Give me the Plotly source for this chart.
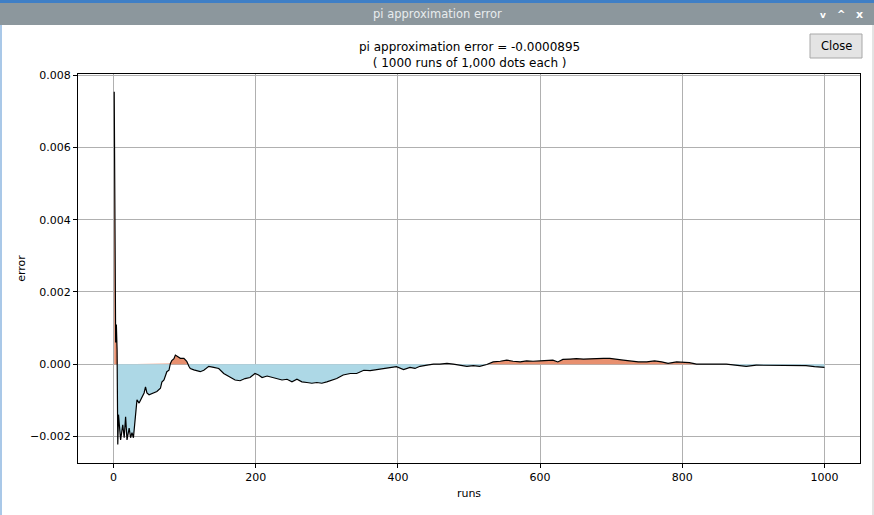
import plotly.graph_objects as go

# data: run number and cumulative pi-approximation error
runs = [1, 2, 3, 4, 5, 6, 7, 10, 13, 15, 17, 19, 22, 24, 26, 28, 31, 33, 36, 38, 40,
        43, 45, 47, 50, 52, 57, 61, 66, 68, 71, 73, 75, 78, 80, 82, 85, 87, 90, 94,
        99, 103, 106, 108, 113, 118, 122, 127, 134, 141, 148, 155, 164, 171, 178,
        185, 192, 199, 204, 209, 216, 223, 230, 237, 244, 251, 258, 265, 272, 279,
        286, 293, 300, 305, 314, 323, 333, 342, 352, 361, 370, 380, 389, 398, 408,
        417, 424, 431, 441, 450, 459, 469, 478, 487, 497, 506, 515, 525, 534, 544,
        553, 562, 572, 581, 590, 600, 609, 618, 625, 632, 642, 651, 661, 670, 679,
        689, 698, 707, 717, 726, 738, 750, 761, 771, 780, 792, 801, 810, 820, 834,
        848, 862, 876, 890, 904, 918, 932, 946, 960, 974, 986, 1000]
errors = [0.00755, 0.00120, 0.00060, 0.00110, 0.00040, -0.00223, -0.00140, -0.00210,
          -0.00168, -0.00204, -0.00146, -0.00210, -0.00177, -0.00204, -0.00190,
          -0.00204, -0.00127, -0.00099, -0.00108, -0.00099, -0.00090, -0.00080,
          -0.00063, -0.00080, -0.00085, -0.00083, -0.00080, -0.00076, -0.00067,
          -0.00050, -0.00044, -0.00035, -0.00021, -0.00017, 0.00002, 0.00010,
          0.00015, 0.00025, 0.00020, 0.00016, 0.00016, 0.00008, -0.00006, -0.00012,
          -0.00016, -0.00018, -0.00021, -0.00017, -0.00006, -0.00009, -0.00012,
          -0.00026, -0.00035, -0.00044, -0.00046, -0.00040, -0.00037, -0.00026,
          -0.00030, -0.00037, -0.00033, -0.00037, -0.00040, -0.00044, -0.00042,
          -0.00049, -0.00042, -0.00049, -0.00051, -0.00053, -0.00051, -0.00053,
          -0.00049, -0.00046, -0.00040, -0.00030, -0.00026, -0.00026, -0.00017,
          -0.00018, -0.00015, -0.00012, -0.00009, -0.00007, -0.00015, -0.00009,
          -0.00012, -0.00006, -0.00003, 0.00000, 0.00000, 0.00002, 0.00000,
          -0.00003, -0.00006, -0.00004, -0.00006, -0.00001, 0.00006, 0.00008,
          0.00011, 0.00008, 0.00006, 0.00009, 0.00008, 0.00009, 0.00009, 0.00011,
          0.00006, 0.00013, 0.00014, 0.00015, 0.00014, 0.00015, 0.00016, 0.00016,
          0.00016, 0.00013, 0.00011, 0.00009, 0.00006, 0.00006, 0.00009, 0.00006,
          0.00002, 0.00006, 0.00005, 0.00004, 0.00000, -0.00001, 0.00000, 0.00000,
          -0.00004, -0.00006, -0.00003, -0.00003, -0.00004, -0.00004, -0.00005,
          -0.00004, -0.00007, -0.0000895]

x_ticks = [0, 200, 400, 600, 800, 1000]
y_ticks = [-0.002, 0.0, 0.002, 0.004, 0.006, 0.008]
y_tick_labels = ["\u22120.002", "0.000", "0.002", "0.004", "0.006", "0.008"]

title_text = "pi approximation error = -0.0000895<br>( 1000 runs of 1,000 dots each )"
window_title = "pi approximation error"

W, H = 874, 515
L, R, T, B = 78, 860, 74, 463


def px(x):
    return (x - L) / (R - L)


def py(y):
    return (B - y) / (B - T)


pos = [e if e > 0 else 0 for e in errors]
neg = [e if e < 0 else 0 for e in errors]

fig = go.Figure()
fig.add_trace(go.Scatter(x=runs, y=pos, mode="lines", line=dict(width=0, color="#e8906f"),
                         fill="tozeroy", fillcolor="#e8906f", hoverinfo="skip"))
fig.add_trace(go.Scatter(x=runs, y=neg, mode="lines", line=dict(width=0, color="#add8e6"),
                         fill="tozeroy", fillcolor="#add8e6", hoverinfo="skip"))
fig.add_trace(go.Scatter(x=runs, y=errors, mode="lines", line=dict(width=1.2, color="black")))

font = "DejaVu Sans"
fig.update_layout(
    width=W, height=H,
    margin=dict(l=L, r=W - R, t=T, b=H - B),
    paper_bgcolor="white", plot_bgcolor="white",
    showlegend=False,
    font=dict(family=font, size=11, color="black"),
    xaxis=dict(range=[-49.95, 1049.95], tickvals=x_ticks, ticks="outside", ticklen=4,
               tickcolor="black", showgrid=True, gridcolor="#b0b0b0", gridwidth=1,
               zeroline=False, showline=True, linecolor="black", linewidth=1, mirror=True,
               title=dict(text="runs", font=dict(size=11), standoff=6)),
    yaxis=dict(range=[-0.00274, 0.00804], tickvals=y_ticks, ticktext=y_tick_labels,
               ticks="outside", ticklen=4, tickcolor="black", showgrid=True,
               gridcolor="#b0b0b0", gridwidth=1, zeroline=False, showline=True,
               linecolor="black", linewidth=1, mirror=True,
               title=dict(text="error", font=dict(size=11), standoff=2)),
    shapes=[
        dict(type="rect", xref="paper", yref="paper", x0=px(0), x1=px(874), y0=py(3), y1=py(0),
             fillcolor="#3f7fc6", line=dict(width=0), layer="below"),
        dict(type="rect", xref="paper", yref="paper", x0=px(0), x1=px(874), y0=py(25), y1=py(3),
             fillcolor="#8c979d", line=dict(width=0), layer="below"),
        dict(type="line", xref="paper", yref="paper", x0=px(1), x1=px(1), y0=py(515), y1=py(25),
             line=dict(color="#a9c8e8", width=2)),
        dict(type="line", xref="paper", yref="paper", x0=px(873), x1=px(873), y0=py(515), y1=py(25),
             line=dict(color="#c8c8c8", width=1)),
        dict(type="rect", xref="paper", yref="paper", x0=px(810), x1=px(862), y0=py(58), y1=py(34),
             fillcolor="#e4e4e4", line=dict(color="#a8a8a8", width=1)),
    ],
    annotations=[
        dict(text=title_text, xref="paper", yref="paper", x=0.5, xanchor="center",
             y=py(38), yanchor="top", showarrow=False, font=dict(size=12, family=font)),
        dict(text=window_title, xref="paper", yref="paper", x=px(437), xanchor="center",
             y=py(14), yanchor="middle", showarrow=False,
             font=dict(size=11.5, family=font, color="#e8ecee")),
        dict(text="<b>v</b>", xref="paper", yref="paper", x=px(823), xanchor="center",
             y=py(15), yanchor="middle", showarrow=False,
             font=dict(size=9, family=font, color="white")),
        dict(text="<b>^</b>", xref="paper", yref="paper", x=px(841), xanchor="center",
             y=py(15), yanchor="middle", showarrow=False,
             font=dict(size=10, family=font, color="white")),
        dict(text="<b>x</b>", xref="paper", yref="paper", x=px(859), xanchor="center",
             y=py(14), yanchor="middle", showarrow=False,
             font=dict(size=11, family=font, color="white")),
        dict(text="Close", xref="paper", yref="paper", x=px(836), xanchor="center",
             y=py(46), yanchor="middle", showarrow=False,
             font=dict(size=11.5, family=font, color="black")),
    ],
)

fig.write_html("out.html", config={"displayModeBar": False},
               post_script="document.body.style.margin='0';")
